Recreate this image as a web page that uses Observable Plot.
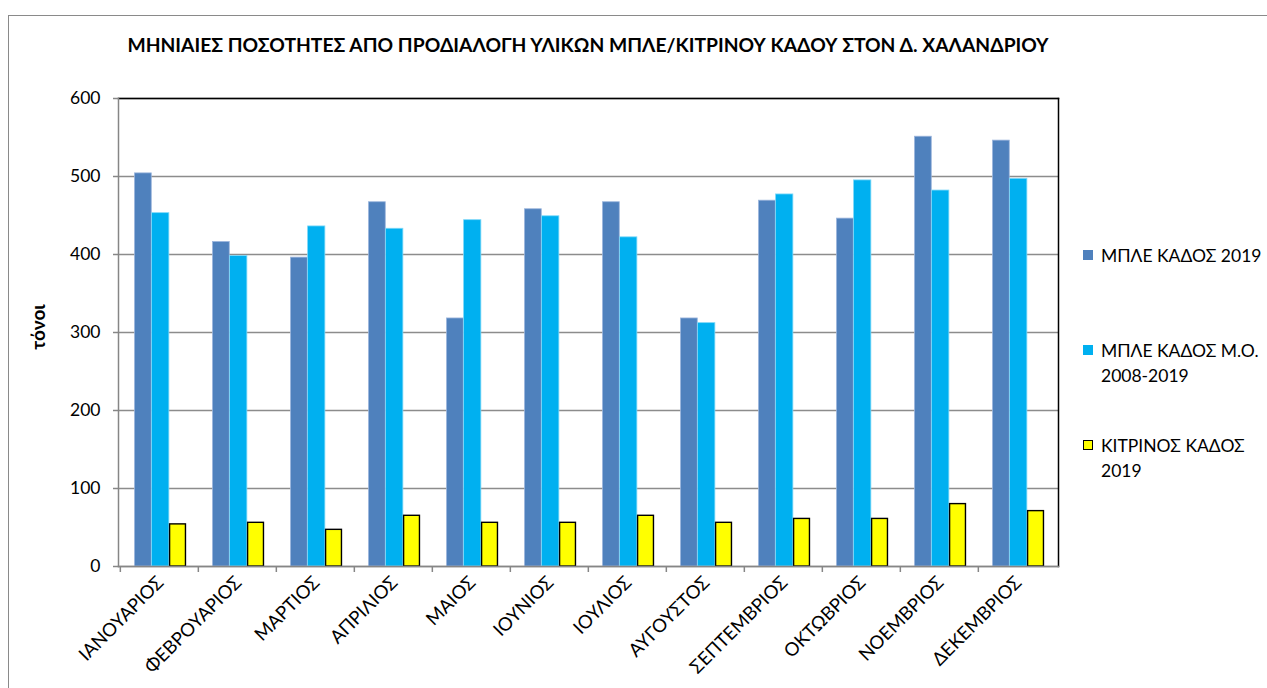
<!DOCTYPE html>
<html><head><meta charset="utf-8">
<script src="https://cdn.jsdelivr.net/npm/d3@7"></script>
<script src="https://cdn.jsdelivr.net/npm/@observablehq/plot@0.6"></script>
<style>
body{margin:0;background:#fff;font-family:Lato,"Open Sans",sans-serif;color:#000;}
#wrap{position:relative;width:1267px;height:688px;overflow:hidden;background:#fff;}
#border{position:absolute;left:8px;top:15px;width:1300px;height:700px;border-left:1px solid #8a8a8a;border-top:1px solid #8a8a8a;}
#chart{position:absolute;left:0;top:0;}
#title{position:absolute;top:33px;left:0;width:1176px;text-align:center;font-weight:bold;font-size:19.3px;white-space:nowrap;}
#ytitle{position:absolute;left:37px;top:327px;transform:translate(-50%,-50%) rotate(-90deg);font-weight:bold;font-size:19px;white-space:nowrap;}
.leg{position:absolute;left:1083px;font-size:17.5px;line-height:25px;}
.leg .sw{position:absolute;left:0;top:7px;width:10px;height:10px;box-sizing:border-box;}
.leg .tx{margin-left:18px;white-space:nowrap;}
</style>
</head><body>
<div id="wrap">
<div id="border"></div>
<div id="chart"></div>
<div id="title">ΜΗΝΙΑΙΕΣ ΠΟΣΟΤΗΤΕΣ ΑΠΟ ΠΡΟΔΙΑΛΟΓΗ ΥΛΙΚΩΝ ΜΠΛΕ/ΚΙΤΡΙΝΟΥ ΚΑΔΟΥ ΣΤΟΝ Δ. ΧΑΛΑΝΔΡΙΟΥ</div>
<div id="ytitle">τόνοι</div>
<div id="legend"></div>
</div>
<script>
const months = ["ΙΑΝΟΥΑΡΙΟΣ","ΦΕΒΡΟΥΑΡΙΟΣ","ΜΑΡΤΙΟΣ","ΑΠΡΙΛΙΟΣ","ΜΑΙΟΣ","ΙΟΥΝΙΟΣ","ΙΟΥΛΙΟΣ","ΑΥΓΟΥΣΤΟΣ","ΣΕΠΤΕΜΒΡΙΟΣ","ΟΚΤΩΒΡΙΟΣ","ΝΟΕΜΒΡΙΟΣ","ΔΕΚΕΜΒΡΙΟΣ"];
const blue2019 = [504, 416, 396, 467, 318, 458, 467, 318, 469, 446, 551, 546];
const blueAvg = [453, 398, 436, 433, 444, 449, 422, 312, 477, 495, 482, 497];
const yellow2019 = [54, 56, 47, 65, 56, 56, 65, 56, 61, 61, 80, 71];
const yTicks = [0, 100, 200, 300, 400, 500, 600];
const seriesNames = [["ΜΠΛΕ ΚΑΔΟΣ 2019"], ["ΜΠΛΕ ΚΑΔΟΣ Μ.Ο.", "2008-2019"], ["ΚΙΤΡΙΝΟΣ ΚΑΔΟΣ", "2019"]];
const seriesColors = ["#4F81BD", "#00B0F0", "#FFFF00"];

const rows = months.map((m, i) => ({month: m, a: blue2019[i], b: blueAvg[i], c: yellow2019[i]}));
const W = 1267, H = 688, mL = 118, mR = 209, mT = 98, mB = 122;
const bw = (W - mL - mR) / months.length;

const chart = Plot.plot({
  width: W, height: H,
  marginLeft: mL, marginRight: mR, marginTop: mT, marginBottom: mB,
  style: {fontFamily: "Lato, 'Open Sans', sans-serif", fontSize: "16px", color: "#000", background: "transparent", overflow: "visible"},
  x: {domain: months, padding: 0, label: null},
  y: {domain: [0, 600], label: null},
  marks: [
    Plot.ruleY(yTicks, {stroke: "#8c8c8c", strokeWidth: 1.3}),
    Plot.barY(rows, {x: "month", y: "a", fill: seriesColors[0], stroke: "#9bb5dc", strokeWidth: 0.8, insetLeft: 14.5, insetRight: bw - 31.6}),
    Plot.barY(rows, {x: "month", y: "b", fill: seriesColors[1], stroke: "#7fd8f8", strokeWidth: 0.8, insetLeft: 31.6, insetRight: bw - 49.2}),
    Plot.barY(rows, {x: "month", y: "c", fill: seriesColors[2], stroke: "#000", strokeWidth: 1.4, insetLeft: 49.6, insetRight: bw - 65.8}),
    Plot.frame({anchor: "top", stroke: "#000", strokeWidth: 1.5}),
    Plot.frame({anchor: "right", stroke: "#000", strokeWidth: 1.5}),
    Plot.frame({anchor: "left", stroke: "#868686", strokeWidth: 1.5}),
    Plot.frame({anchor: "bottom", stroke: "#868686", strokeWidth: 1.5}),
    Plot.axisY({ticks: yTicks, tickSize: 5, tickPadding: 13, label: null, stroke: "#868686", strokeWidth: 1.5, fontSize: 17.5}),
    Plot.axisX({tickSize: 6, tickFormat: () => "", dx: -bw / 2, stroke: "#868686", strokeWidth: 1.5, label: null}),
    Plot.axisX({tickSize: 0, tickRotate: -45, tickPadding: 13, label: null, fontSize: 18.5, dx: 1})
  ]
});
document.getElementById("chart").appendChild(chart);

const leg = document.getElementById("legend");
const tops = [243, 338, 433];
seriesNames.forEach((lines, i) => {
  const d = document.createElement("div");
  d.className = "leg";
  d.style.top = tops[i] + "px";
  const sw = document.createElement("div");
  sw.className = "sw";
  sw.style.background = seriesColors[i];
  if (i === 2) sw.style.border = "1.5px solid #000";
  d.appendChild(sw);
  lines.forEach(t => {
    const s = document.createElement("div");
    s.className = "tx";
    s.textContent = t;
    d.appendChild(s);
  });
  leg.appendChild(d);
});
</script>
</body></html>
